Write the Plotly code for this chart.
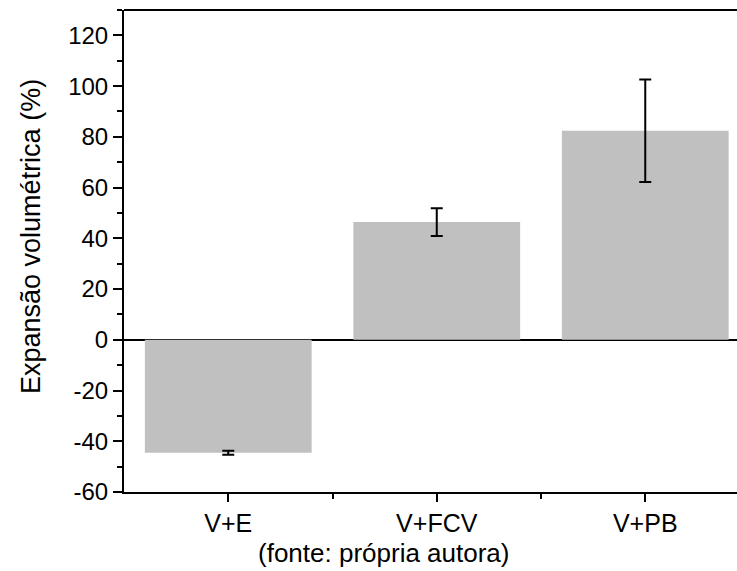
import plotly.graph_objects as go

categories = ["V+E", "V+FCV", "V+PB"]
values = [-44.5, 46.4, 82.4]
errors = [0.8, 5.5, 20.2]
y_ticks = [-60, -40, -20, 0, 20, 40, 60, 80, 100, 120]
y_tick_labels = ["-60", "-40", "-20", "0", "20", "40", "60", "80", "100", "120"]

x_pos = list(range(len(categories)))
x_minor = [i + 0.5 for i in x_pos]

fig = go.Figure()
fig.add_trace(go.Bar(
    x=x_pos, y=values, width=0.8,
    marker=dict(color="#c0c0c0", line=dict(width=0)),
    error_y=dict(type="data", array=errors, visible=True, color="black",
                 thickness=2, width=6),
))

font = "Liberation Sans, Arial, sans-serif"
L, T, B = 124, 10, 79
H = 571 - T - B
W = 737 - L
fig.update_layout(
    width=737, height=571,
    margin=dict(l=L, r=0, t=T, b=B, autoexpand=False),
    plot_bgcolor="white", paper_bgcolor="white",
    showlegend=False,
    font=dict(family=font, size=20, color="black"),
    xaxis=dict(
        range=[-0.5, 2.44], automargin=False,
        tickvals=x_pos, ticktext=categories,
        showline=True, linecolor="black", linewidth=2, mirror=False,
        ticks="outside", ticklen=8, tickwidth=2, tickcolor="black",
        tickfont=dict(size=25), showgrid=False, zeroline=False,
        minor=dict(tickvals=x_minor, ticks="outside", ticklen=5, tickwidth=2,
                   tickcolor="black", showgrid=False),
    ),
    yaxis=dict(
        range=[-60, 130], tickvals=y_ticks, ticktext=y_tick_labels, automargin=False,
        showline=True, linecolor="black", linewidth=2, mirror=False,
        ticks="outside", ticklen=9, tickwidth=2, tickcolor="black",
        tickfont=dict(size=24), showgrid=False, zeroline=True,
        zerolinecolor="black", zerolinewidth=2,
        minor=dict(ticks="outside", ticklen=5, tickwidth=2, tickcolor="black", dtick=10,
                   tick0=0, showgrid=False),
    ),
    shapes=[dict(type="line", xref="paper", yref="paper", x0=0, x1=1, y0=1, y1=1,
                 line=dict(color="black", width=2))],
    annotations=[
        dict(text="(fonte: própria autora)", xref="paper", yref="paper",
             x=(383 - L) / W, y=-(553 - (T + H)) / H, xanchor="center", yanchor="middle",
             showarrow=False, font=dict(size=26)),
        dict(text="Expansão volumétrica (%)", xref="paper", yref="paper", textangle=-90,
             x=(31 - L) / W, y=((T + H) - 237) / H, xanchor="center", yanchor="middle",
             showarrow=False, font=dict(size=27)),
    ],
)

fig.write_html(
    "out.html",
    config={"displayModeBar": False},
    post_script="document.body.style.margin='0';document.body.style.overflow='hidden';",
)
